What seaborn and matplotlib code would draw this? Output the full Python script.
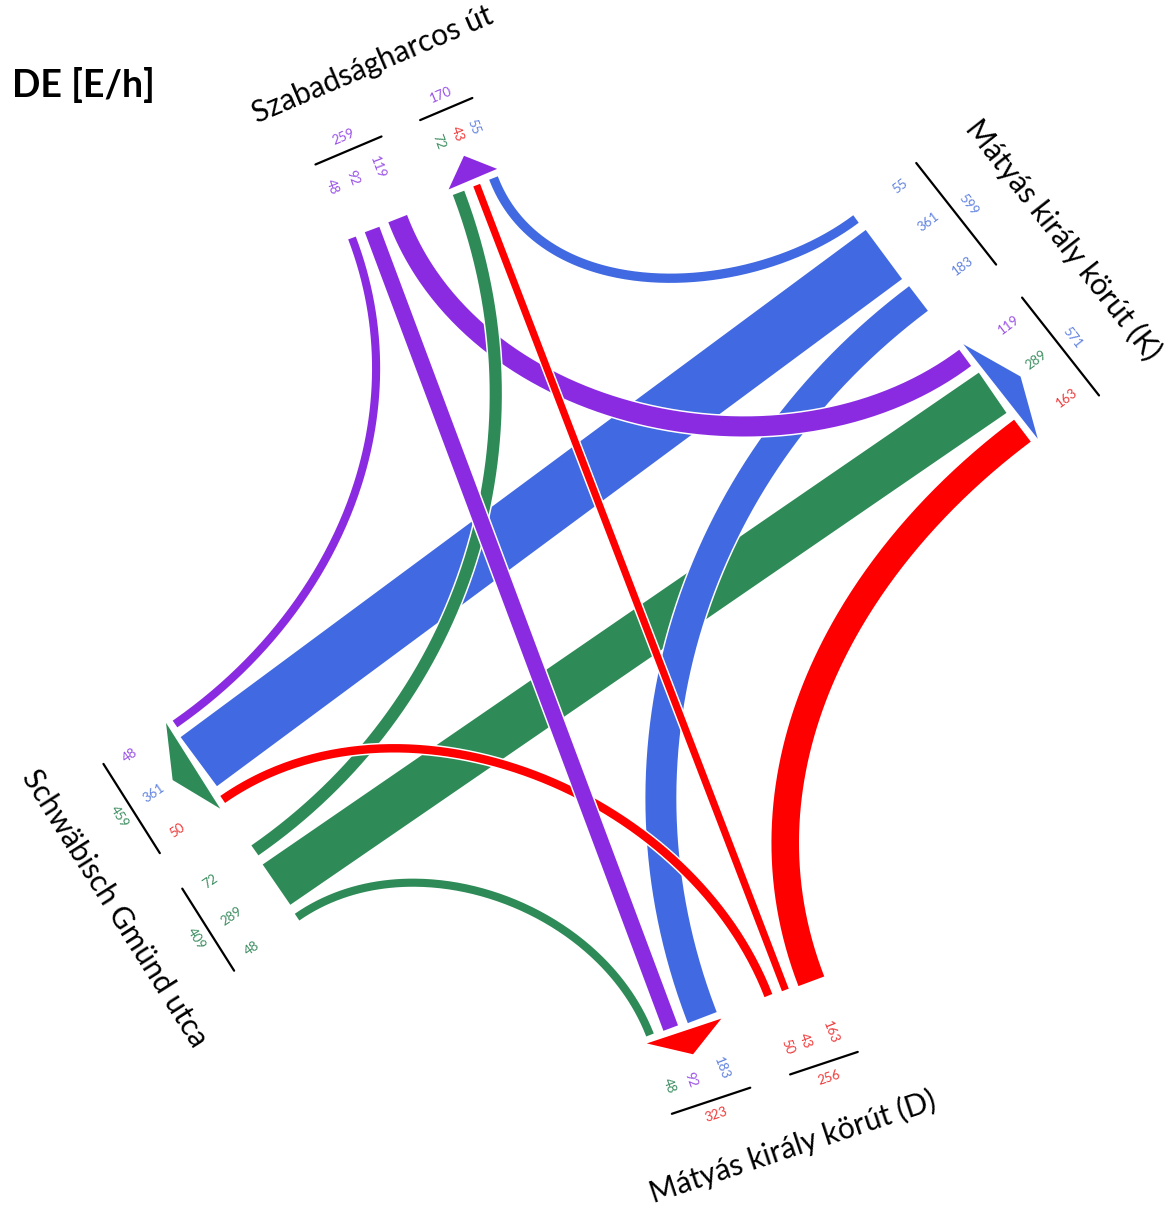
import numpy as np
import matplotlib
matplotlib.use("Agg")
import matplotlib.pyplot as plt
import seaborn as sns
from matplotlib.patches import Polygon

# ---------------- data ----------------
arm_keys = ["T", "R", "B", "L"]
arm_names = ["Szabadságharcos út", "Mátyás király körút (K)",
             "Mátyás király körút (D)", "Schwäbisch Gmünd utca"]
arm_colors = ["#8A2BE2", "#4169E1", "#FF0000", "#2E8B57"]
label_colors = ["#9a52e6", "#6283e0", "#f03a3a", "#3f8f62"]

flow_from = ["T", "T", "T", "R", "R", "R", "B", "B", "B", "L", "L", "L"]
flow_to = ["L", "B", "R", "T", "L", "B", "L", "T", "R", "T", "R", "B"]
flow_vol = [48, 92, 119, 55, 361, 183, 50, 43, 163, 72, 289, 48]

title = "DE [E/h]"

# ---------------- layout ----------------
SCALE = 0.169      # px per vehicle/h
BAND_GAP = 10
GROUP_GAP = 50
HANDLE = 0.377

anchor = {"T": (352, 238), "R": (856, 219), "B": (650, 1035), "L": (175, 724)}
lateral = {"T": (0.92, -0.39), "R": (0.618, 0.786), "B": (0.949, -0.316), "L": (0.534, 0.845)}
inward = {"T": (0.355, 0.935), "R": (-0.8, 0.6), "B": (-0.36, -0.93), "L": (0.82, -0.57)}
name_dist = {"T": 152, "R": 150, "B": 152, "L": 150}

slot_order = {
    "T": [("in", "L"), ("in", "B"), ("in", "R"), ("out", "L"), ("out", "B"), ("out", "R")],
    "R": [("in", "T"), ("in", "L"), ("in", "B"), ("out", "T"), ("out", "L"), ("out", "B")],
    "B": [("out", "L"), ("out", "T"), ("out", "R"), ("in", "L"), ("in", "T"), ("in", "R")],
    "L": [("out", "T"), ("out", "R"), ("out", "B"), ("in", "T"), ("in", "R"), ("in", "B")],
}

col = dict(zip(arm_keys, arm_colors))
lcol = dict(zip(arm_keys, label_colors))
name = dict(zip(arm_keys, arm_names))
vol = {(o, d): v for o, d, v in zip(flow_from, flow_to, flow_vol)}

pos = {}
for arm, slots in slot_order.items():
    lat = np.array(lateral[arm])
    p = np.array(anchor[arm], dtype=float)
    prev_w, prev_kind = None, None
    for kind, other in slots:
        v = vol[(arm, other)] if kind == "in" else vol[(other, arm)]
        w = v * SCALE
        if prev_w is not None:
            gap = BAND_GAP if kind == prev_kind else GROUP_GAP
            p = p + (prev_w / 2 + gap + w / 2) * lat
        pos[(arm, kind, other)] = (p.copy(), w, v)
        prev_w, prev_kind = w, kind

# ---------------- figure ----------------
sns.set_theme(style="white")
plt.rcParams['font.family'] = ['Lato', 'DejaVu Sans']

fig = plt.figure(figsize=(11.73, 12.15), dpi=100)
ax = fig.add_axes([0, 0, 1, 1])
PT = 72 / 100.0


def bezier(p0, c1, c2, p3, n=200):
    t = np.linspace(0, 1, n)[:, None]
    return ((1 - t) ** 3) * p0 + 3 * ((1 - t) ** 2) * t * c1 + 3 * (1 - t) * t ** 2 * c2 + t ** 3 * p3


draw_order = [("R", "L"), ("L", "R"), ("T", "L"), ("L", "B"), ("B", "R"), ("R", "T"),
              ("R", "B"), ("T", "R"), ("L", "T"), ("B", "L"), ("T", "B"), ("B", "T")]

for o, d in draw_order:
    p0, w, v = pos[(o, "in", d)]
    p3, _, _ = pos[(d, "out", o)]
    io = np.array(inward[o]); idd = np.array(inward[d])
    if np.dot(io, idd) < -0.95:
        pts = np.vstack([p0, p3])
    else:
        h = HANDLE * np.linalg.norm(p3 - p0)
        pts = bezier(p0, p0 + h * io, p3 + h * idd, p3)
    sns.lineplot(x=pts[:, 0], y=pts[:, 1], sort=False, estimator=None, ax=ax,
                 color="white", linewidth=(w + 3) * PT, solid_capstyle="butt")
    sns.lineplot(x=pts[:, 0], y=pts[:, 1], sort=False, estimator=None, ax=ax,
                 color=col[o], linewidth=w * PT, solid_capstyle="butt")

# arrows, labels, lines
for arm in arm_keys:
    lat = np.array(lateral[arm]); inw = np.array(inward[arm]); out = -inw
    comp_axis = inw if inw[0] > 0 else -inw
    comp_rot = np.degrees(np.arctan2(-comp_axis[1], comp_axis[0]))
    tot_axis = lat if lat[0] > 0 else -lat
    tot_rot = np.degrees(np.arctan2(-tot_axis[1], tot_axis[0]))
    all_pts = []
    for kind in ["in", "out"]:
        slots = [(k, o) for k, o in slot_order[arm] if k == kind]
        first_c, first_w, _ = pos[(arm, kind, slots[0][1])]
        last_c, last_w, _ = pos[(arm, kind, slots[-1][1])]
        e0 = first_c - first_w / 2 * lat
        e1 = last_c + last_w / 2 * lat
        all_pts += [e0, e1]
        gc = (e0 + e1) / 2
        total = 0
        for k, other in slots:
            c, w, v = pos[(arm, k, other)]
            total += v
            lp = c + 55 * out
            tc = lcol[arm] if kind == "in" else lcol[other]
            ax.text(lp[0], lp[1], str(v), color=tc, fontsize=9.5, rotation=comp_rot,
                    rotation_mode="anchor", ha="center", va="center")
        l0 = e0 - 4 * lat + 82 * out
        l1 = e1 + 4 * lat + 82 * out
        ax.plot([l0[0], l1[0]], [l0[1], l1[1]], color="black", lw=1.6)
        tp = gc + 97 * out
        ax.text(tp[0], tp[1], str(total), color=lcol[arm], fontsize=9.5, rotation=tot_rot,
                rotation_mode="anchor", ha="center", va="center")
        if kind == "out":
            b0 = e0 - 2 * lat + 7 * out
            b1 = e1 + 2 * lat + 7 * out
            apex = (b0 + b1) / 2 + 25 * out
            ax.add_patch(Polygon([b0, b1, apex], closed=True, facecolor=col[arm],
                                 edgecolor="none", zorder=3))
    ac = np.mean(all_pts, axis=0)
    npnt = ac + name_dist[arm] * out
    ax.text(npnt[0], npnt[1], name[arm], color="black", fontsize=21.5, rotation=tot_rot,
            rotation_mode="anchor", ha="center", va="center")

ax.text(12, 85, title, fontsize=27, fontweight="bold", ha="left", va="center", color="black")

ax.set_xlim(0, 1173)
ax.set_ylim(1215, 0)
ax.set_aspect("auto")
ax.axis("off")
fig.savefig("out.png", dpi=100, facecolor="white")
